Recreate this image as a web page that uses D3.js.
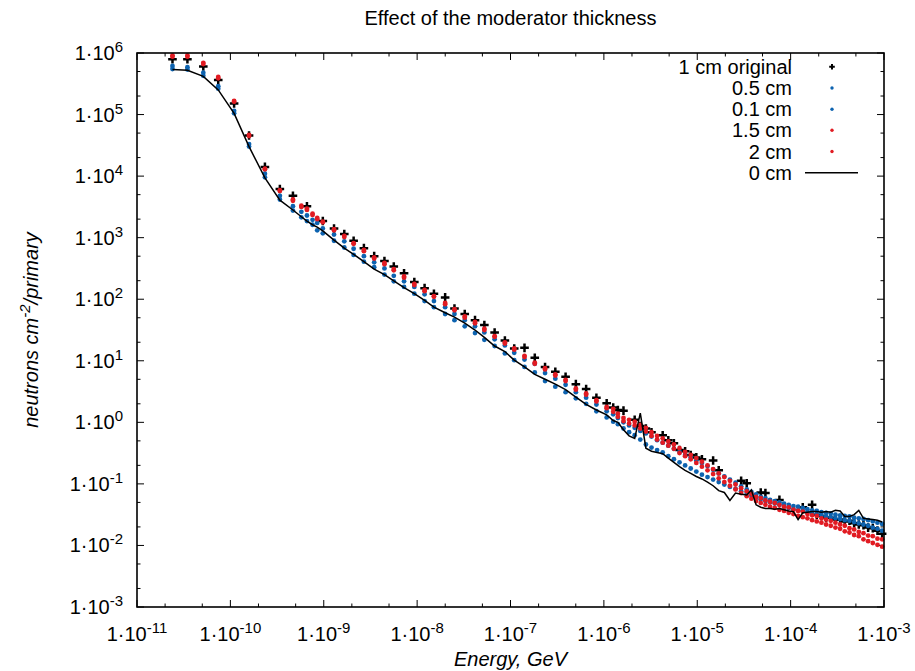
<!DOCTYPE html>
<html>
<head>
<meta charset="utf-8">
<script src="https://cdn.jsdelivr.net/npm/d3@7"></script>
<style>
body { margin: 0; background: #fff; }
text { font-family: "Liberation Sans", Arial, sans-serif; fill: #000; }
</style>
</head>
<body>
<svg id="chart" width="915" height="671"></svg>
<script>
// energies and fluxes are stored as log10 values (GeV, neutrons cm^-2/primary)
var logEnergy = [
  -10.62, -10.46, -10.29, -10.13, -9.96, -9.80, -9.63, -9.47, -9.33,
  -9.24, -9.18, -9.12, -9.07, -9.01,
  -8.89, -8.78, -8.68, -8.57, -8.46, -8.35, -8.25, -8.14, -8.03, -7.92, -7.82, -7.70, -7.60, -7.49,
  -7.38, -7.28, -7.17, -7.06, -6.96, -6.85, -6.74, -6.63, -6.52, -6.41, -6.30, -6.19, -6.08, -5.97,
  -5.90, -5.85, -5.79, -5.73, -5.67, -5.61, -5.55, -5.49, -5.43, -5.37, -5.31, -5.25,
  -5.19, -5.13, -5.07, -5.01, -4.95, -4.89, -4.83, -4.77, -4.71, -4.65, -4.59, -4.53,
  -4.47, -4.42, -4.37, -4.32, -4.27, -4.22, -4.17, -4.12, -4.07, -4.02, -3.97, -3.92, -3.87, -3.82, -3.77,
  -3.72, -3.67, -3.62, -3.57, -3.52, -3.47, -3.42, -3.37, -3.32, -3.27, -3.22, -3.17, -3.12, -3.07, -3.02
]
var orig1cm = [
  5.90, 5.90, 5.78, 5.56, 5.18, 4.66, 4.15, 3.79, 3.68,
  null, 3.51, null, null, 3.27,
  3.15, 3.06, 2.95, 2.83, 2.70, 2.62, 2.53, 2.42, 2.28, 2.18, 2.09, 2.03, 1.85, 1.76,
  1.66, 1.58, 1.46, 1.33, 1.20, 1.21, 1.05, 0.90, 0.82, 0.74, 0.62, 0.54, 0.40, 0.31,
  0.24, 0.20, 0.19, null, 0.04, -0.06, -0.10, -0.16, null, -0.21, -0.29, -0.34,
  -0.45, -0.47, -0.53, -0.57, -0.60, null, -0.62, -0.78, null, null, null, -0.95,
  -0.99, null, null, -1.14, -1.15, null, null, -1.26, null, null, null, null, -1.38, null, -1.34,
  -1.50, -1.52, -1.55, -1.55, -1.58, -1.58, -1.61, -1.60, -1.64, -1.66, -1.67, -1.71, -1.72, -1.76, -1.81
]
var mod05cm = [
  5.79, 5.77, 5.68, 5.46, 5.06, 4.52, 4.04, 3.68, 3.51,
  3.42, 3.36, 3.29, 3.24, 3.15,
  3.05, 2.94, 2.82, 2.70, 2.60, 2.50, 2.38, 2.29, 2.20, 2.08, 1.97, 1.87, 1.76, 1.66,
  1.56, 1.46, 1.35, 1.25, 1.13, 1.02, 0.95, 0.80, 0.71, 0.61, 0.49, 0.40, 0.29, 0.18,
  0.13, 0.07, 0.00, -0.05, -0.09, -0.14, -0.18, -0.23, -0.29, -0.33, -0.38, -0.43,
  -0.48, -0.53, -0.57, -0.62, -0.66, -0.71, -0.77, -0.83, -0.88, -0.93, -0.98, -1.04,
  -1.09, -1.13, -1.17, -1.21, -1.23, -1.26, -1.28, -1.30, -1.32, -1.34, -1.36, -1.37, -1.39, -1.41, -1.43,
  -1.44, -1.46, -1.47, -1.48, -1.50, -1.51, -1.52, -1.53, -1.55, -1.56, -1.57, -1.59, -1.61, -1.63, -1.65
]
var mod01cm = [
  5.74, 5.73, 5.63, 5.42, 5.02, 4.48, 3.98, 3.62, 3.44,
  3.33, 3.27, 3.21, 3.12, 3.07,
  2.95, 2.84, 2.72, 2.61, 2.52, 2.40, 2.29, 2.20, 2.09, 1.97, 1.87, 1.76, 1.66, 1.56,
  1.45, 1.34, 1.24, 1.12, 1.01, 0.90, 0.81, 0.67, 0.58, 0.49, 0.39, 0.30, 0.18, 0.08,
  0.01, -0.03, -0.10, -0.16, -0.21, -0.28, -0.36, -0.41, -0.45, -0.49, -0.55, -0.60,
  -0.65, -0.70, -0.75, -0.80, -0.85, -0.89, -0.93, -0.97, -1.01, -1.05, -1.08, -1.12,
  -1.15, -1.19, -1.22, -1.25, -1.28, -1.30, -1.32, -1.34, -1.37, -1.39, -1.41, -1.43, -1.44, -1.46, -1.48,
  -1.50, -1.51, -1.53, -1.54, -1.56, -1.57, -1.59, -1.60, -1.62, -1.64, -1.66, -1.68, -1.71, -1.73, -1.76
]
var mod15cm = [
  5.96, 5.96, 5.84, 5.61, 5.22, 4.67, 4.12, 3.77, 3.62,
  3.52, 3.47, 3.39, 3.32, 3.26,
  3.14, 3.03, 2.91, 2.80, 2.68, 2.59, 2.49, 2.37, 2.25, 2.15, 2.05, 1.94, 1.84, 1.72,
  1.63, 1.52, 1.40, 1.30, 1.20, 1.08, 0.97, 0.88, 0.78, 0.69, 0.55, 0.47, 0.36, 0.25,
  0.22, 0.14, 0.07, 0.04, 0.01, -0.04, -0.09, -0.16, -0.22, -0.26, -0.31, -0.36,
  -0.42, -0.48, -0.53, -0.58, -0.64, -0.70, -0.76, -0.83, -0.89, -0.95, -1.01, -1.07,
  -1.12, -1.16, -1.21, -1.23, -1.27, -1.29, -1.31, -1.34, -1.37, -1.38, -1.42, -1.44, -1.45, -1.49, -1.51,
  -1.52, -1.56, -1.58, -1.60, -1.63, -1.66, -1.68, -1.72, -1.74, -1.78, -1.80, -1.84, -1.85, -1.89, -1.90
]
var mod2cm = [
  5.94, 5.94, 5.82, 5.59, 5.21, 4.65, 4.11, 3.76, 3.60,
  3.50, 3.45, 3.37, 3.30, 3.25,
  3.12, 3.01, 2.90, 2.78, 2.66, 2.57, 2.47, 2.35, 2.23, 2.13, 2.04, 1.92, 1.82, 1.70,
  1.61, 1.50, 1.39, 1.28, 1.18, 1.06, 0.95, 0.86, 0.76, 0.67, 0.53, 0.45, 0.34, 0.23,
  0.17, 0.09, 0.02, -0.02, -0.05, -0.10, -0.15, -0.22, -0.28, -0.33, -0.38, -0.43,
  -0.50, -0.55, -0.60, -0.66, -0.72, -0.78, -0.84, -0.91, -0.97, -1.03, -1.09, -1.15,
  -1.20, -1.24, -1.28, -1.31, -1.34, -1.37, -1.39, -1.42, -1.44, -1.47, -1.49, -1.52, -1.54, -1.56, -1.59,
  -1.61, -1.63, -1.66, -1.68, -1.71, -1.73, -1.77, -1.79, -1.83, -1.85, -1.90, -1.93, -1.96, -1.99, -2.02
]
var mod0cm = [
  5.73, 5.72, 5.62, 5.40, 5.02, 4.48, 3.97, 3.61, 3.45,
  3.34, 3.27, 3.21, 3.17, 3.11,
  2.96, 2.83, 2.73, 2.61, 2.49, 2.40, 2.30, 2.19, 2.09, 1.98, 1.87, 1.78, 1.71, 1.61,
  1.50, 1.38, 1.24, 1.15, 1.01, 0.90, 0.78, 0.70, 0.62, 0.53, 0.41, 0.29, 0.20, 0.12,
  0.03, 0.00, -0.12, -0.22, -0.26, 0.15, -0.42, -0.47, -0.49, -0.51, -0.58, -0.65,
  -0.72, -0.78, -0.83, -0.88, -0.92, -0.97, -1.03, -1.11, -1.14, -1.27, -1.15, -1.17,
  -1.18, -1.10, -1.34, -1.38, -1.40, -1.40, -1.41, -1.40, -1.42, -1.44, -1.45, -1.58, -1.47, -1.46, -1.45,
  -1.45, -1.46, -1.45, -1.46, -1.43, -1.44, -1.53, -1.53, -1.50, -1.43, -1.56, -1.57, -1.58, -1.59, -1.62
]

var xTickExp = [-11, -10, -9, -8, -7, -6, -5, -4, -3]
var yTickExp = [-3, -2, -1, 0, 1, 2, 3, 4, 5, 6]
var legendNames = ["1 cm original", "0.5 cm", "0.1 cm", "1.5 cm", "2 cm", "0 cm"]

var width = 915
var height = 671
var margin = { top: 53, right: 31, bottom: 64, left: 137 }
var blue = "#0d63b0"
var red = "#e11b22"
var fontSize = 20

var svg = d3.select("#chart")

var xScale = d3.scaleLog()
    .domain([1e-11, 1e-3])
    .range([margin.left, width - margin.right])
var yScale = d3.scaleLog()
    .domain([1e-3, 1e6])
    .range([height - margin.bottom, margin.top])

var x0 = margin.left, x1 = width - margin.right
var y0 = height - margin.bottom, y1 = margin.top

// 刻度 (inward, mirrored on all sides; minor ticks at 2 and 5)
var tickG = svg.append("g").attr("stroke", "#000").attr("stroke-width", 1)
function minors(exps) {
    var out = []
    exps.slice(0, -1).forEach(function (e) {
        out.push(2 * Math.pow(10, e))
        out.push(5 * Math.pow(10, e))
    })
    return out
}
xTickExp.forEach(function (e) {
    var x = xScale(Math.pow(10, e))
    tickG.append("line").attr("x1", x).attr("x2", x).attr("y1", y0).attr("y2", y0 - 7)
    tickG.append("line").attr("x1", x).attr("x2", x).attr("y1", y1).attr("y2", y1 + 7)
})
minors(xTickExp).forEach(function (v) {
    var x = xScale(v)
    tickG.append("line").attr("x1", x).attr("x2", x).attr("y1", y0).attr("y2", y0 - 3.5)
    tickG.append("line").attr("x1", x).attr("x2", x).attr("y1", y1).attr("y2", y1 + 3.5)
})
yTickExp.forEach(function (e) {
    var y = yScale(Math.pow(10, e))
    tickG.append("line").attr("x1", x0).attr("x2", x0 + 7).attr("y1", y).attr("y2", y)
    tickG.append("line").attr("x1", x1).attr("x2", x1 - 7).attr("y1", y).attr("y2", y)
})
minors(yTickExp).forEach(function (v) {
    var y = yScale(v)
    tickG.append("line").attr("x1", x0).attr("x2", x0 + 3.5).attr("y1", y).attr("y2", y)
    tickG.append("line").attr("x1", x1).attr("x2", x1 - 3.5).attr("y1", y).attr("y2", y)
})

// tick labels 1·10^n
function powerLabel(sel, e) {
    sel.append("tspan").text("1\u00b710")
    sel.append("tspan").attr("dy", -8).attr("font-size", 15).text(String(e))
}
yTickExp.forEach(function (e) {
    var t = svg.append("text")
        .attr("x", x0 - 14)
        .attr("y", yScale(Math.pow(10, e)) + 7)
        .attr("text-anchor", "end")
        .attr("font-size", fontSize)
    powerLabel(t, e)
})
xTickExp.forEach(function (e) {
    var t = svg.append("text")
        .attr("x", xScale(Math.pow(10, e)))
        .attr("y", y0 + 34)
        .attr("text-anchor", "middle")
        .attr("font-size", fontSize)
    powerLabel(t, e)
})

// 数据
function points(arr) {
    var out = []
    arr.forEach(function (v, i) {
        if (v !== null) out.push({ e: Math.pow(10, logEnergy[i]), f: Math.pow(10, v) })
    })
    return out
}
var plus = "M-4.3,0H4.3M0,-4.3V4.3"

svg.append("g").selectAll("path")
    .data(points(orig1cm))
    .enter()
    .append("path")
    .attr("d", plus)
    .attr("transform", function (d) { return "translate(" + xScale(d.e) + "," + yScale(d.f) + ")" })
    .attr("stroke", "#000")
    .attr("stroke-width", 2.5)

function dots(arr, color) {
    svg.append("g").selectAll("circle")
        .data(points(arr))
        .enter()
        .append("circle")
        .attr("cx", function (d) { return xScale(d.e) })
        .attr("cy", function (d) { return yScale(d.f) })
        .attr("r", 2.4)
        .attr("fill", color)
}
dots(mod05cm, blue)
dots(mod01cm, blue)
dots(mod15cm, red)
dots(mod2cm, red)

var line = d3.line()
    .x(function (d) { return xScale(d.e) })
    .y(function (d) { return yScale(d.f) })
svg.append("path")
    .datum(points(mod0cm))
    .attr("d", line)
    .attr("fill", "none")
    .attr("stroke", "#000")
    .attr("stroke-width", 1.5)

// 边框
svg.append("rect")
    .attr("x", x0).attr("y", y1)
    .attr("width", x1 - x0).attr("height", y0 - y1)
    .attr("fill", "none")
    .attr("stroke", "#000")
    .attr("stroke-width", 1.6)

// 图例
var legendY = [66.7, 88, 109.3, 130.3, 151.5, 172.8]
var legendMarks = ["plus", blue, blue, red, red, "line"]
legendNames.forEach(function (name, i) {
    svg.append("text")
        .attr("x", 792)
        .attr("y", legendY[i] + 7)
        .attr("text-anchor", "end")
        .attr("font-size", fontSize)
        .text(name)
    var m = legendMarks[i]
    if (m == "plus") {
        svg.append("path").attr("d", "M-2.8,0H2.8M0,-2.8V2.8")
            .attr("transform", "translate(832," + legendY[i] + ")")
            .attr("stroke", "#000").attr("stroke-width", 2)
    } else if (m == "line") {
        svg.append("line").attr("x1", 805).attr("x2", 858)
            .attr("y1", legendY[i]).attr("y2", legendY[i])
            .attr("stroke", "#000").attr("stroke-width", 1.5)
    } else {
        svg.append("circle").attr("cx", 832).attr("cy", legendY[i]).attr("r", 1.7).attr("fill", m)
    }
})

// 标题
svg.append("text")
    .attr("x", (x0 + x1) / 2)
    .attr("y", 25)
    .attr("text-anchor", "middle")
    .attr("font-size", fontSize)
    .text("Effect of the moderator thickness")

svg.append("text")
    .attr("x", (x0 + x1) / 2)
    .attr("y", 666)
    .attr("text-anchor", "middle")
    .attr("font-size", fontSize)
    .attr("font-style", "italic")
    .text("Energy, GeV")

var yTitle = svg.append("text")
    .attr("transform", "translate(38," + ((y0 + y1) / 2) + ") rotate(-90)")
    .attr("text-anchor", "middle")
    .attr("font-size", fontSize)
    .attr("font-style", "italic")
yTitle.append("tspan").text("neutrons cm")
yTitle.append("tspan").attr("dy", -8).attr("font-size", 15).text("-2")
yTitle.append("tspan").attr("dy", 8).text("/primary")
</script>
</body>
</html>
